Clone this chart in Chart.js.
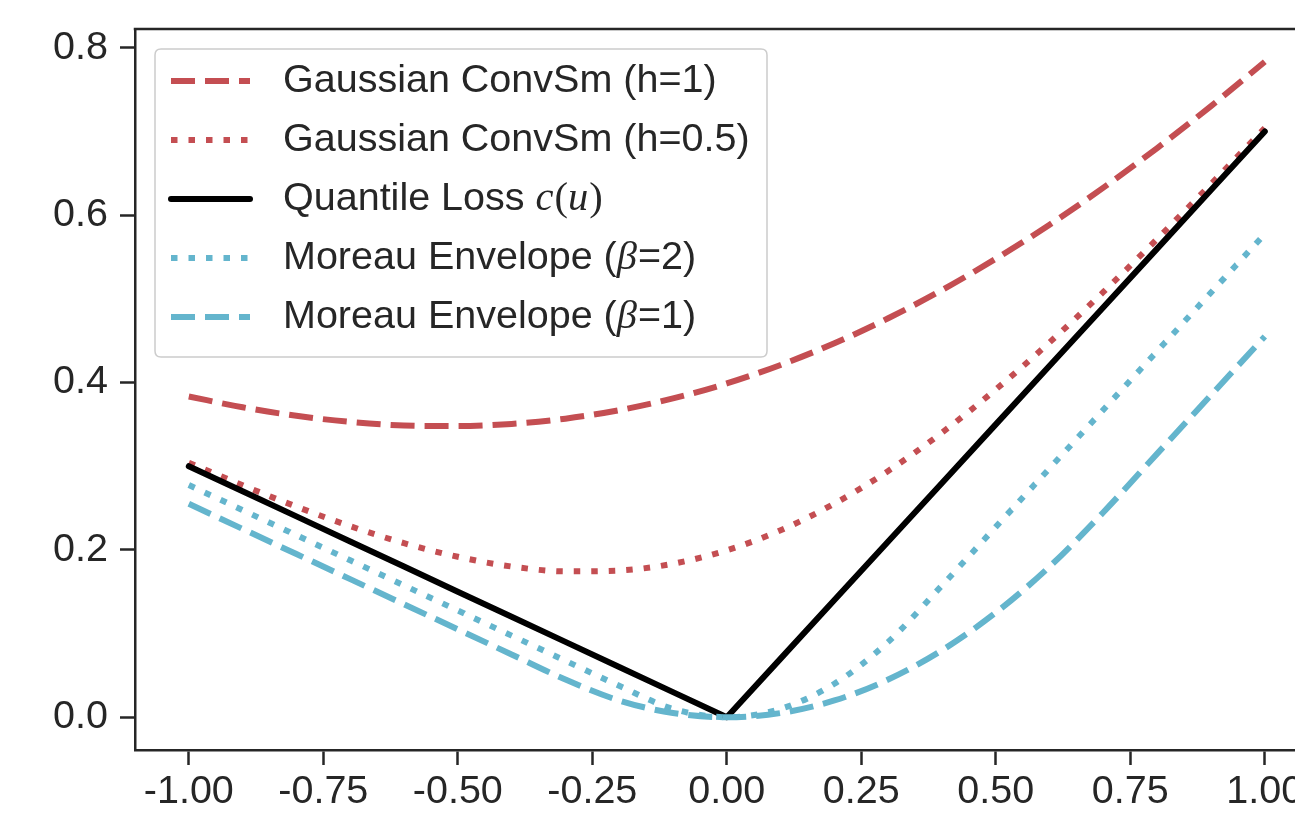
<!DOCTYPE html>
<html><head><meta charset="utf-8">
<script src="https://cdn.jsdelivr.net/npm/chart.js@4.4.1/dist/chart.umd.min.js"></script>
<style>
html,body{margin:0;padding:0;background:#fff;overflow:hidden;width:1295px;height:814px}
#wrap{position:relative;width:1370px;height:814px}
</style></head>
<body><div id="wrap"><canvas id="c" width="1370" height="814"></canvas></div>
<script>
// ---- data ----
const xs = [-1,-0.9,-0.8,-0.7,-0.6,-0.5,-0.4,-0.3,-0.2,-0.1,0,0.1,0.2,0.3,0.4,0.5,0.6,0.7,0.8,0.9,1];
const gaussH1 = [0.3833,0.3704,0.3602,0.3529,0.3486,0.3479,0.3505,0.3568,0.3669,0.3810,0.3989,0.4210,0.4469,0.4768,0.5105,0.5479,0.5886,0.6329,0.6802,0.7304,0.7833];
const gaussH05 = [0.3042,0.2772,0.2517,0.2283,0.2080,0.1917,0.1801,0.1743,0.1753,0.1834,0.1995,0.2234,0.2553,0.2943,0.3401,0.3917,0.4480,0.5083,0.5717,0.6372,0.7042];
const quantileLoss = [0.30,0.27,0.24,0.21,0.18,0.15,0.12,0.09,0.06,0.03,0,0.07,0.14,0.21,0.28,0.35,0.42,0.49,0.56,0.63,0.70];
const moreauB2 = [0.2775,0.2475,0.2175,0.1875,0.1575,0.1275,0.0975,0.0675,0.0375,0.0100,0,0.0100,0.0400,0.0900,0.1575,0.2275,0.2975,0.3675,0.4375,0.5075,0.5775];
const moreauB1 = [0.2550,0.2250,0.1950,0.1650,0.1350,0.1050,0.0750,0.0450,0.0200,0.0050,0,0.0050,0.0200,0.0450,0.0800,0.1250,0.1800,0.2450,0.3150,0.3850,0.4550];
const seriesLabels = ['Gaussian ConvSm (h=1)','Gaussian ConvSm (h=0.5)','Quantile Loss $c(u)$','Moreau Envelope ($β$=2)','Moreau Envelope ($β$=1)'];
const xTicks = [-1,-0.75,-0.5,-0.25,0,0.25,0.5,0.75,1];
const xTickLabels = ['-1.00','-0.75','-0.50','-0.25','0.00','0.25','0.50','0.75','1.00'];
const yTicks = [0,0.2,0.4,0.6,0.8];
const yTickLabels = ['0.0','0.2','0.4','0.6','0.8'];
const xRange = [-1.1, 1.1];
const yRange = [-0.0392, 0.8225];

// ---- styling ----
const RED = '#c44e52', BLUE = '#64b5cd', INK = '#262626';
const SANS = '"Liberation Sans", Arial, Helvetica, sans-serif';
const SERIF = '"Liberation Serif", "Times New Roman", serif';
const FS = 39.5;
const LW = 6;

const pts = arr => xs.map((x,i)=>({x:x, y:arr[i]}));
const styles = [
  {c:RED,  dash:[24,10], mono:true},
  {c:RED,  dash:[6.5,11], mono:true},
  {c:'#000000', dash:[], mono:false},
  {c:BLUE, dash:[6.5,11], mono:true},
  {c:BLUE, dash:[24,10], mono:true}
];
const values = [gaussH1, gaussH05, quantileLoss, moreauB2, moreauB1];

const datasets = values.map((v,i)=>({
  label: seriesLabels[i],
  data: pts(v),
  borderColor: styles[i].c,
  borderWidth: LW,
  borderDash: styles[i].dash,
  borderCapStyle: styles[i].dash.length ? 'butt' : 'round',
  borderJoinStyle: 'round',
  pointRadius: 0,
  fill: false,
  tension: 0,
  cubicInterpolationMode: styles[i].mono ? 'monotone' : 'default',
  order: values.length - i
}));

const framePlugin = {
  id: 'frame',
  afterDraw(chart){
    const {ctx, chartArea:a} = chart;
    ctx.save();
    ctx.strokeStyle = INK; ctx.lineWidth = 2.5; ctx.lineCap='square';
    ctx.beginPath();
    ctx.moveTo(a.left, a.top); ctx.lineTo(a.right, a.top); ctx.lineTo(a.right, a.bottom);
    ctx.stroke();
    ctx.restore();
  }
};

function drawLabel(ctx, text, x, y){
  const parts = text.split('$');
  let cx = x;
  parts.forEach((p, k)=>{
    if (k % 2 === 0) {
      ctx.font = FS + 'px ' + SANS;
      ctx.fillText(p, cx, y);
      cx += ctx.measureText(p).width;
    } else {
      for (const ch of p) {
        const ital = /[a-zA-Zα-ωβ]/.test(ch);
        ctx.font = (ital ? 'italic ' : '') + (FS+1) + 'px ' + SERIF;
        ctx.fillText(ch, cx, y);
        cx += ctx.measureText(ch).width + (ital ? 1 : 0);
      }
    }
  });
}

const legendPlugin = {
  id: 'mplLegend',
  afterDatasetsDraw(chart){
    const {ctx, chartArea:a} = chart;
    const bx = a.left + 20, by = a.top + 20, bw = 612, bh = 308, r = 6;
    ctx.save();
    ctx.beginPath();
    ctx.moveTo(bx+r, by); ctx.lineTo(bx+bw-r, by); ctx.quadraticCurveTo(bx+bw, by, bx+bw, by+r);
    ctx.lineTo(bx+bw, by+bh-r); ctx.quadraticCurveTo(bx+bw, by+bh, bx+bw-r, by+bh);
    ctx.lineTo(bx+r, by+bh); ctx.quadraticCurveTo(bx, by+bh, bx, by+bh-r);
    ctx.lineTo(bx, by+r); ctx.quadraticCurveTo(bx, by, bx+r, by);
    ctx.closePath();
    ctx.fillStyle = 'rgba(255,255,255,0.8)'; ctx.fill();
    ctx.strokeStyle = '#cccccc'; ctx.lineWidth = 1.5; ctx.stroke();
    chart.data.datasets.forEach((ds, i)=>{
      const cy = by + 32 + i*59;
      ctx.beginPath();
      ctx.setLineDash(ds.borderDash);
      ctx.lineCap = ds.borderCapStyle;
      ctx.strokeStyle = ds.borderColor; ctx.lineWidth = ds.borderWidth;
      ctx.moveTo(bx+16, cy); ctx.lineTo(bx+95, cy); ctx.stroke();
      ctx.setLineDash([]);
      ctx.fillStyle = INK; ctx.textBaseline = 'middle'; ctx.textAlign = 'left';
      drawLabel(ctx, ds.label, bx+128, cy);
    });
    ctx.restore();
  }
};

new Chart(document.getElementById('c'), {
  type: 'line',
  data: { datasets },
  options: {
    responsive: false,
    animation: false,
    events: [],
    layout: { padding: { left: 0, top: 29, right: 51.4, bottom: 0 } },
    plugins: { legend: { display: false }, tooltip: { enabled: false } },
    scales: {
      x: {
        type: 'linear', min: xRange[0], max: xRange[1],
        afterBuildTicks: s => { s.ticks = xTicks.map(v=>({value:v})); },
        afterFit: s => { s.height = 64; s.paddingLeft = 0; s.paddingRight = 0; },
        grid: { display: true, drawOnChartArea: false, drawTicks: true, tickLength: 15, tickWidth: 2.5, tickColor: INK },
        border: { display: true, width: 2.5, color: INK },
        ticks: { autoSkip: false, maxRotation: 0, minRotation: 0, padding: 3, color: INK,
          font: { family: SANS, size: FS },
          callback: v => xTickLabels[xTicks.indexOf(v)] }
      },
      y: {
        type: 'linear', min: yRange[0], max: yRange[1],
        afterBuildTicks: s => { s.ticks = yTicks.map(v=>({value:v})); },
        afterFit: s => { s.width = 135; s.paddingTop = 0; s.paddingBottom = 0; },
        grid: { display: true, drawOnChartArea: false, drawTicks: true, tickLength: 15, tickWidth: 2.5, tickColor: INK },
        border: { display: true, width: 2.5, color: INK },
        ticks: { autoSkip: false, padding: 12, color: INK,
          font: { family: SANS, size: FS },
          callback: v => yTickLabels[yTicks.indexOf(v)] }
      }
    }
  },
  plugins: [framePlugin, legendPlugin]
});
</script>
</body></html>
